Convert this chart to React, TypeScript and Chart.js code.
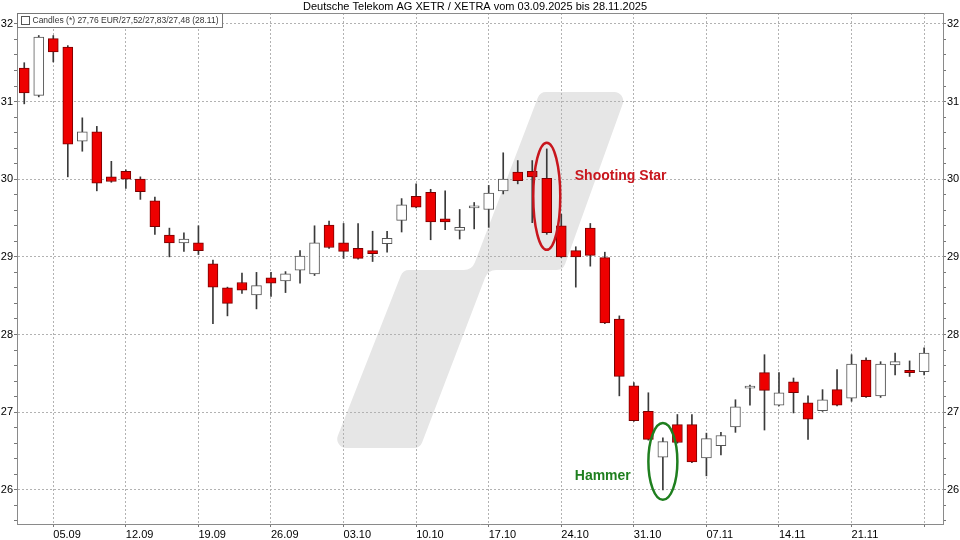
import React, { useEffect, useRef } from 'react';
import { Chart, registerables } from 'chart.js';

Chart.register(...registerables);

const FONT = '"Liberation Sans", Arial, Helvetica, sans-serif';

const TITLE = 'Deutsche Telekom AG XETR / XETRA vom 03.09.2025 bis 28.11.2025';
const LEGEND_TEXT = 'Candles (*) 27,76 EUR/27,52/27,83/27,48 (28.11)';

const dates = [
  '03.09', '04.09', '05.09', '08.09', '09.09', '10.09', '11.09', '12.09', '15.09', '16.09',
  '17.09', '18.09', '19.09', '22.09', '23.09', '24.09', '25.09', '26.09', '29.09', '30.09',
  '01.10', '02.10', '03.10', '06.10', '07.10', '08.10', '09.10', '10.10', '13.10', '14.10',
  '15.10', '16.10', '17.10', '20.10', '21.10', '22.10', '23.10', '24.10', '27.10', '28.10',
  '29.10', '30.10', '31.10', '03.11', '04.11', '05.11', '06.11', '07.11', '10.11', '11.11',
  '12.11', '13.11', '14.11', '17.11', '18.11', '19.11', '20.11', '21.11', '24.11', '25.11',
  '26.11', '27.11', '28.11',
];

const opens = [
  31.43, 31.08, 31.81, 31.70, 30.49, 30.61, 30.03, 30.10, 30.00, 29.72,
  29.28, 29.18, 29.18, 28.91, 28.60, 28.67, 28.51, 28.73, 28.69, 28.83,
  28.78, 29.41, 29.18, 29.11, 29.08, 29.17, 29.47, 29.78, 29.83, 29.49,
  29.34, 29.63, 29.61, 29.85, 30.09, 30.10, 30.01, 29.40, 29.08, 29.37,
  28.99, 28.20, 27.34, 27.01, 26.42, 26.84, 26.84, 26.41, 26.57, 26.81,
  27.31, 27.51, 27.09, 27.39, 27.12, 27.02, 27.29, 27.18, 27.67, 27.21,
  27.61, 27.54, 27.52,
];

const highs = [
  31.50, 31.85, 31.85, 31.72, 30.79, 30.68, 30.23, 30.12, 30.03, 29.77,
  29.37, 29.31, 29.40, 28.96, 28.61, 28.79, 28.80, 28.80, 28.81, 29.08,
  29.40, 29.46, 29.43, 29.43, 29.33, 29.33, 29.75, 29.94, 29.87, 29.85,
  29.61, 29.70, 29.92, 30.34, 30.24, 30.24, 30.39, 29.55, 29.13, 29.43,
  29.06, 28.24, 27.38, 27.25, 26.67, 26.97, 26.97, 26.73, 26.74, 27.16,
  27.35, 27.74, 27.51, 27.44, 27.21, 27.29, 27.55, 27.74, 27.70, 27.65,
  27.76, 27.66, 27.83,
];

const lows = [
  30.97, 31.06, 31.51, 30.03, 30.36, 29.85, 29.96, 29.88, 29.74, 29.29,
  29.00, 29.07, 29.03, 28.14, 28.24, 28.53, 28.33, 28.49, 28.54, 28.66,
  28.76, 29.11, 28.98, 28.97, 28.94, 29.06, 29.32, 29.63, 29.22, 29.35,
  29.23, 29.36, 29.38, 29.81, 29.94, 29.44, 29.29, 28.99, 28.61, 28.88,
  28.14, 27.21, 26.88, 26.64, 26.00, 26.60, 26.35, 26.18, 26.45, 26.74,
  27.09, 26.77, 27.08, 26.99, 26.65, 27.01, 27.08, 27.14, 27.19, 27.19,
  27.48, 27.46, 27.48,
];

const closes = [
  31.11, 31.83, 31.64, 30.45, 30.61, 29.95, 29.97, 30.00, 29.84, 29.39,
  29.18, 29.23, 29.08, 28.61, 28.40, 28.57, 28.63, 28.66, 28.78, 29.01,
  29.18, 29.12, 29.07, 28.98, 29.04, 29.24, 29.67, 29.64, 29.45, 29.45,
  29.38, 29.64, 29.82, 30.00, 29.98, 30.03, 29.31, 29.00, 29.00, 29.02,
  28.15, 27.46, 26.89, 26.65, 26.62, 26.61, 26.36, 26.66, 26.70, 27.07,
  27.33, 27.28, 27.25, 27.25, 26.91, 27.16, 27.09, 27.62, 27.20, 27.62,
  27.65, 27.51, 27.76,
];

// week grid lines (Fridays) and their labels
const xTickDates = ['05.09', '12.09', '19.09', '26.09', '03.10', '10.10', '17.10', '24.10', '31.10', '07.11', '14.11', '21.11', '28.11'];
const xTickLabels = ['05.09', '12.09', '19.09', '26.09', '03.10', '10.10', '17.10', '24.10', '31.10', '07.11', '14.11', '21.11', ''];

const yMajorTicks = [26, 27, 28, 29, 30, 31, 32];
const Y_MIN = 25.56;
const Y_MAX = 32.14;
const X_MIN = -0.5;
const X_MAX = 63.3;

// annotations
const annotationLabels = ['Shooting Star', 'Hammer'];
const annotationDates = ['23.10', '04.11'];
const annotationCenters = [29.78, 26.365];
const annotationHalfHeights = [0.69, 0.494];
const annotationTextValues = [30.04, 26.18];
const annotationColors = ['#c8161d', '#1f7f1f'];

const isInt = (v: number) => Math.abs(v - Math.round(v)) < 1e-6;

const minorTicks: number[] = [];
for (let k = 0; k <= 32; k++) minorTicks.push(Math.round((25.6 + k * 0.2) * 10) / 10);

const overlayPlugin = {
  id: 'overlay',
  beforeDraw(chart: any) {
    const { ctx, chartArea: a } = chart;
    // watermark logo, positioned relative to chart area
    const L = a.left, T = a.top;
    const pts: [number, number][] = [
      [L + 523, T + 79], [L + 610, T + 79], [L + 546, T + 257], [L + 471, T + 257],
      [L + 403, T + 435], [L + 316, T + 435], [L + 386, T + 257], [L + 455, T + 257],
    ];
    const radii = [9, 9, 9, 12, 9, 9, 9, 12];
    ctx.save();
    ctx.fillStyle = '#e6e6e6';
    ctx.beginPath();
    const n = pts.length;
    const mid = (p: [number, number], q: [number, number]) => [(p[0] + q[0]) / 2, (p[1] + q[1]) / 2];
    const start = mid(pts[n - 1], pts[0]);
    ctx.moveTo(start[0], start[1]);
    for (let i = 0; i < n; i++) {
      const p = pts[i];
      const q = pts[(i + 1) % n];
      const m = mid(p, q);
      ctx.arcTo(p[0], p[1], m[0], m[1], radii[i]);
    }
    ctx.closePath();
    ctx.fill();
    ctx.restore();
  },
  afterDatasetsDraw(chart: any) {
    const { ctx } = chart;
    const xs = chart.scales.x;
    const ys = chart.scales.y;
    ctx.save();
    for (let k = 0; k < annotationLabels.length; k++) {
      const idx = dates.indexOf(annotationDates[k]);
      const cx = xs.getPixelForValue(idx);
      const cy = ys.getPixelForValue(annotationCenters[k]);
      const ry = Math.abs(ys.getPixelForValue(annotationCenters[k] + annotationHalfHeights[k]) - cy);
      const rx = k === 0 ? 13.5 : 14.5;
      ctx.strokeStyle = annotationColors[k];
      ctx.lineWidth = 2.5;
      ctx.beginPath();
      ctx.ellipse(cx, cy, rx, ry, 0, 0, Math.PI * 2);
      ctx.stroke();
      ctx.fillStyle = annotationColors[k];
      ctx.font = 'bold 14px ' + FONT;
      ctx.textBaseline = 'middle';
      ctx.textAlign = 'left';
      const tx = xs.getPixelForValue(37.93);
      ctx.fillText(annotationLabels[k], tx, ys.getPixelForValue(annotationTextValues[k]));
    }
    ctx.restore();
  },
  afterDraw(chart: any) {
    const { ctx, chartArea: a } = chart;
    ctx.save();
    // top border
    ctx.strokeStyle = '#8a8a8a';
    ctx.lineWidth = 1;
    ctx.beginPath();
    ctx.moveTo(a.left, Math.round(a.top) + 0.5);
    ctx.lineTo(a.right, Math.round(a.top) + 0.5);
    ctx.stroke();
    // title
    ctx.fillStyle = '#000';
    ctx.font = '11px ' + FONT;
    ctx.textAlign = 'center';
    ctx.textBaseline = 'middle';
    ctx.fillText(TITLE, 475, 6.5);
    // legend box
    ctx.font = '8.5px ' + FONT;
    const tw = ctx.measureText(LEGEND_TEXT).width;
    const bx = Math.round(a.left) + 0.5;
    const by = Math.round(a.top) + 0.5;
    const bw = tw + 19;
    ctx.fillStyle = '#fff';
    ctx.fillRect(bx, by, bw, 14);
    ctx.strokeStyle = '#777';
    ctx.strokeRect(bx, by, bw, 14);
    ctx.fillStyle = '#fff';
    ctx.strokeStyle = '#555';
    ctx.fillRect(bx + 4, by + 3, 8, 8);
    ctx.strokeRect(bx + 4, by + 3, 8, 8);
    ctx.fillStyle = '#333';
    ctx.textAlign = 'left';
    ctx.textBaseline = 'middle';
    ctx.fillText(LEGEND_TEXT, bx + 15, by + 7.5);
    ctx.restore();
  },
};

export default function App() {
  const canvasRef = useRef<HTMLCanvasElement | null>(null);

  useEffect(() => {
    const canvas = canvasRef.current;
    if (!canvas) return;
    Chart.defaults.font.family = FONT;

    const bodies = opens.map((o, i) => ({ x: i, y: [o, closes[i]] }));
    const wicks = lows.map((l, i) => ({ x: i, y: [l, highs[i]] }));
    const down = opens.map((o, i) => closes[i] < o);

    const xTickIdx = xTickDates.map((d) => dates.indexOf(d));

    const yScaleCommon = (position: 'left' | 'right', gridOnArea: boolean) => ({
      type: 'linear' as const,
      position,
      min: Y_MIN,
      max: Y_MAX,
      afterBuildTicks: (s: any) => {
        s.ticks = minorTicks.map((v) => ({ value: v }));
      },
      afterFit: (s: any) => {
        s.width = 17;
      },
      ticks: {
        autoSkip: false,
        padding: 1,
        color: '#000',
        font: { size: 11, family: FONT },
        callback: (v: any) => (isInt(Number(v)) && yMajorTicks.includes(Math.round(Number(v))) ? String(Math.round(Number(v))) : ''),
      },
      grid: {
        drawOnChartArea: gridOnArea,
        offset: false,
        color: (c: any) => (c.tick && isInt(c.tick.value) ? '#b2b2b2' : 'rgba(0,0,0,0)'),
        tickColor: '#777',
        tickLength: 3,
        lineWidth: 1,
      },
      border: { display: true, color: '#8a8a8a', width: 1, dash: [2, 2] },
    });

    const chart = new Chart(canvas, {
      type: 'bar',
      data: {
        datasets: [
          {
            label: 'body',
            data: bodies as any,
            backgroundColor: down.map((d) => (d ? '#ee0000' : '#ffffff')),
            borderColor: down.map((d) => (d ? '#7a0000' : '#555555')),
            borderWidth: 1,
            borderSkipped: false,
            barThickness: 10,
            minBarLength: 2,
            grouped: false,
          } as any,
          {
            label: 'wick',
            data: wicks as any,
            backgroundColor: '#3a3a3a',
            borderWidth: 0,
            barThickness: 1,
            grouped: false,
          } as any,
        ],
      },
      options: {
        animation: false,
        responsive: false,
        maintainAspectRatio: false,
        devicePixelRatio: 1,
        layout: { padding: { top: 13, left: 0, right: 0, bottom: 0 } },
        plugins: {
          legend: { display: false },
          title: { display: false },
          tooltip: { enabled: false },
        },
        scales: {
          x: {
            type: 'linear',
            min: X_MIN,
            max: X_MAX,
            offset: false,
            afterBuildTicks: (s: any) => {
              s.ticks = xTickIdx.map((v) => ({ value: v }));
            },
            afterFit: (s: any) => {
              s.height = 16;
            },
            ticks: {
              autoSkip: false,
              maxRotation: 0,
              minRotation: 0,
              align: 'start',
              padding: 1,
              color: '#000',
              font: { size: 11, family: FONT },
              callback: (v: any) => {
                const k = xTickIdx.indexOf(Number(v));
                return k >= 0 ? xTickLabels[k] : '';
              },
            },
            grid: { offset: false, color: '#b2b2b2', tickColor: '#777', tickLength: 3, lineWidth: 1 },
            border: { display: true, color: '#8a8a8a', width: 1, dash: [2, 2] },
          } as any,
          y: yScaleCommon('left', true) as any,
          y2: yScaleCommon('right', false) as any,
        },
      },
      plugins: [overlayPlugin],
    });

    return () => chart.destroy();
  }, []);

  return (
    <div style={{ position: 'absolute', left: 0, top: 0, width: 960, height: 540, background: '#fff' }}>
      <canvas ref={canvasRef} width={960} height={540} style={{ width: 960, height: 540, display: 'block' }} />
    </div>
  );
}
